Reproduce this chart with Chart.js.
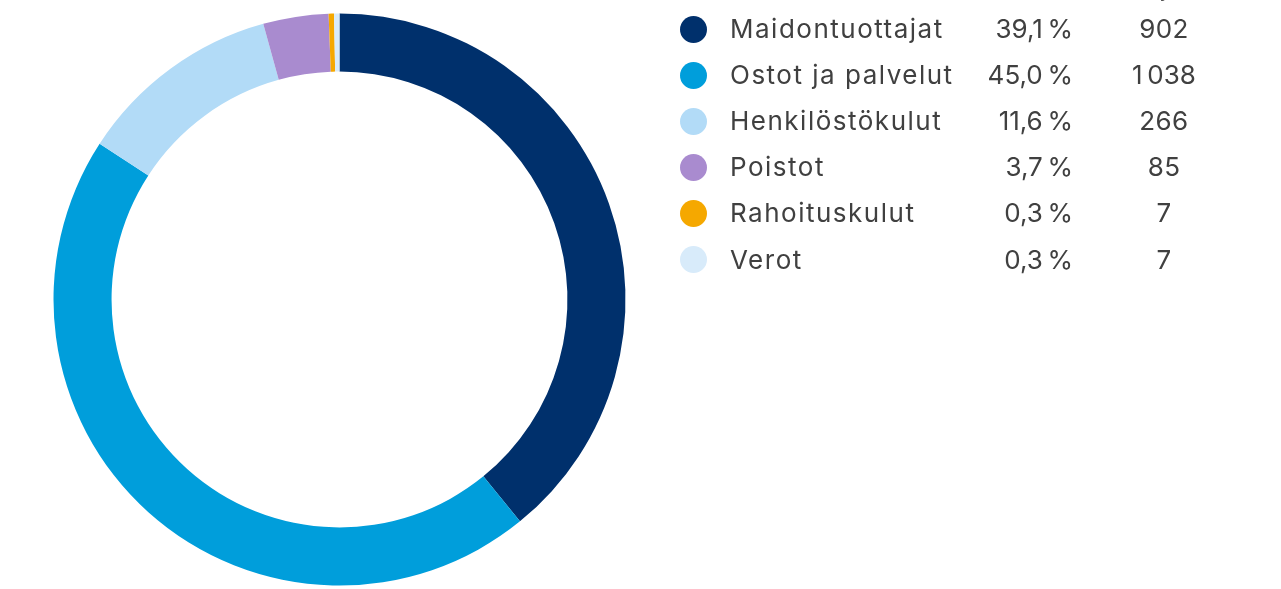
<!DOCTYPE html>
<html>
<head>
<meta charset="utf-8">
<script src="https://cdn.jsdelivr.net/npm/chart.js@4.4.1/dist/chart.umd.min.js"></script>
<style>
  html, body { margin: 0; padding: 0; background: #ffffff; overflow: hidden; }
  #wrap { position: relative; width: 1281px; height: 589px; }
  #chartBox { position: absolute; left: 0; top: 0; width: 1281px; height: 589px; }
  .lg { position: absolute; font-family: "Inter", "Open Sans", sans-serif; font-size: 26px; color: #404040; line-height: 46px; height: 46px; white-space: nowrap; font-variant-numeric: proportional-nums; }
  .lab { letter-spacing: 1.5px; }
  .num { letter-spacing: 0.4px; }
  .dot { position: absolute; width: 27px; height: 27px; border-radius: 50%; }
  .hdr { position: absolute; font-family: "Inter", "Open Sans", sans-serif; font-size: 26px; color: #404040; white-space: nowrap; }
</style>
</head>
<body>
<div id="wrap">
  <div id="chartBox"><canvas id="c"></canvas></div>
  <div id="legend"></div>
</div>
<script>
const categories = ["Maidontuottajat", "Ostot ja palvelut", "Henkilöstökulut", "Poistot", "Rahoituskulut", "Verot"];
const values = [902, 1038, 266, 85, 7, 7];
const percentLabels = ["39,1\u202F%", "45,0\u202F%", "11,6\u202F%", "3,7\u202F%", "0,3\u202F%", "0,3\u202F%"];
const valueLabels = ["902", "1\u202F038", "266", "85", "7", "7"];
const colors = ["#00306c", "#009edb", "#b2dbf7", "#a98bcf", "#f5a800", "#d8ebfa"];
const headerLabels = ["%", "milj. €"];

const ctx = document.getElementById('c');
new Chart(ctx, {
  type: 'doughnut',
  data: {
    labels: categories,
    datasets: [{
      data: values,
      backgroundColor: colors,
      borderWidth: 0,
      hoverOffset: 0
    }]
  },
  options: {
    responsive: true,
    maintainAspectRatio: false,
    animation: false,
    cutout: '79.7%',
    layout: { padding: { left: 53, top: 13.5, right: 655, bottom: 3.5 } },
    plugins: { legend: { display: false }, tooltip: { enabled: false } }
  }
});

// HTML legend built from the arrays
const lg = document.getElementById('legend');
const rowTop0 = 6;
const rowH = 46.1;
categories.forEach((cat, i) => {
  const top = rowTop0 + i * rowH;
  const d = document.createElement('div');
  d.className = 'dot';
  d.style.left = '680px';
  d.style.top = (top + 9.5) + 'px';
  d.style.background = colors[i];
  lg.appendChild(d);

  const l = document.createElement('div');
  l.className = 'lg lab';
  l.style.left = '730px';
  l.style.top = top + 'px';
  l.textContent = cat;
  lg.appendChild(l);

  const p = document.createElement('div');
  p.className = 'lg num';
  p.style.right = (1281 - 1073) + 'px';
  p.style.top = top + 'px';
  p.style.textAlign = 'right';
  p.textContent = percentLabels[i];
  lg.appendChild(p);

  const v = document.createElement('div');
  v.className = 'lg num';
  v.style.left = '1104px';
  v.style.width = '120px';
  v.style.top = top + 'px';
  v.style.textAlign = 'center';
  v.textContent = valueLabels[i];
  lg.appendChild(v);
});

// column headers (cut off at the top edge in the reference)
const h1 = document.createElement('div');
h1.className = 'hdr';
h1.style.right = (1281 - 1073) + 'px';
h1.style.top = '-30px';
h1.textContent = headerLabels[0];
lg.appendChild(h1);
const h2 = document.createElement('div');
h2.className = 'hdr';
h2.style.left = '1113px';
h2.style.width = '100px';
h2.style.textAlign = 'center';
h2.style.top = '-29px';
h2.textContent = headerLabels[1];
lg.appendChild(h2);
</script>
</body>
</html>
